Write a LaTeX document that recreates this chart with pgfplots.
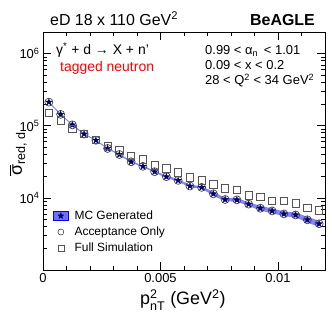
\documentclass[border=0pt]{standalone}
\usepackage{pgfplots}
\pgfplotsset{compat=1.18}
\usepackage{pgfplotstable}
\usepackage{amsmath}
\usepackage{fontspec}
\setmainfont{Liberation Sans}

\definecolor{mcband}{RGB}{112,112,250}
\definecolor{mcline}{RGB}{130,130,255}
\definecolor{navy}{RGB}{0,0,100}
\definecolor{accgray}{RGB}{70,70,70}
\definecolor{fullgray}{RGB}{85,85,85}

\pgfdeclareplotmark{fstar}{%
  \pgfpathmoveto{\pgfpointpolar{90}{\pgfplotmarksize}}%
  \pgfpathlineto{\pgfpointpolar{126}{0.42\pgfplotmarksize}}%
  \pgfpathlineto{\pgfpointpolar{162}{\pgfplotmarksize}}%
  \pgfpathlineto{\pgfpointpolar{198}{0.42\pgfplotmarksize}}%
  \pgfpathlineto{\pgfpointpolar{234}{\pgfplotmarksize}}%
  \pgfpathlineto{\pgfpointpolar{270}{0.42\pgfplotmarksize}}%
  \pgfpathlineto{\pgfpointpolar{306}{\pgfplotmarksize}}%
  \pgfpathlineto{\pgfpointpolar{342}{0.42\pgfplotmarksize}}%
  \pgfpathlineto{\pgfpointpolar{18}{\pgfplotmarksize}}%
  \pgfpathlineto{\pgfpointpolar{54}{0.42\pgfplotmarksize}}%
  \pgfpathclose
  \pgfusepathqfillstroke
}

% MC generated, acceptance only, full simulation
\pgfplotstableread{
x        y       full
0.00025  213000  152000
0.00075  144000  119000
0.00125  103000  91500
0.00175  77000   77000
0.00225  63000   63700
0.00275  48500   52600
0.00325  40000   45900
0.00375  31700   38000
0.00425  27400   34200
0.00475  23100   28200
0.00525  19700   25700
0.00575  17500   22600
0.00625  14600   19300
0.00675  14000   17500
0.00725  11400   15500
0.00775  9500    13600
0.00825  9400    13000
0.00875  8200    10900
0.00925  7200    10300
0.00975  6600    9100
0.01025  6000    9100
0.01075  5800    8350
0.01125  4970    7300
0.01175  4380    6700
}\data

% MC uncertainty band outline (upper edge forward, lower edge back)
\pgfplotstableread{
x        y
0.00025  216200
0.00075  146160
0.00125  104550
0.00175  78160
0.00225  63950
0.00275  49230
0.00325  41000
0.00375  32490
0.00425  28090
0.00475  23680
0.00525  20490
0.00575  18200
0.00625  15180
0.00675  14560
0.00725  12080
0.00775  10070
0.00825  9960
0.00875  8690
0.00925  7780
0.00975  7130
0.01025  6480
0.01075  6260
0.01125  5470
0.01175  4820
0.01175  3980
0.01125  4520
0.01075  5370
0.01025  5560
0.00975  6110
0.00925  6670
0.00875  7740
0.00825  8870
0.00775  8960
0.00725  10750
0.00675  13460
0.00625  14040
0.00575  16830
0.00525  18940
0.00475  22540
0.00425  26730
0.00375  30930
0.00325  39020
0.00275  47780
0.00225  62070
0.00175  75860
0.00125  101480
0.00075  141870
0.00025  209850
}\band

\begin{document}
\begin{tikzpicture}
\begin{axis}[
  scale only axis, width=282bp, height=238bp,
  xmin=0, xmax=0.012,
  ymode=log, ymin=1000, ymax=2e6,
  xtick={0,0.005,0.01}, xticklabels={0,0.005,0.01},
  minor xtick={0.001,0.002,0.003,0.004,0.006,0.007,0.008,0.009,0.011},
  ytick={1e4,1e5,1e6},
  yticklabels={10\textsuperscript{4},10\textsuperscript{5},10\textsuperscript{6}},
  minor ytick={2000,3000,4000,5000,6000,7000,8000,9000,20000,30000,40000,50000,60000,70000,80000,90000,200000,300000,400000,500000,600000,700000,800000,900000},
  tick align=inside,
  major tick length=8bp, minor tick length=4bp,
  axis line style={line width=0.8bp},
  every tick/.style={black, line width=0.6bp},
  tick label style={font=\fontsize{13}{15}\selectfont},
  scaled x ticks=false,
  xlabel={$\text{p}^{\text{2}}_{\text{nT}}$ (GeV\textsuperscript{2})},
  xlabel style={font=\fontsize{18}{20}\selectfont, at={(axis description cs:0.496,-0.126)}, anchor=center},
  ylabel={$\overline{\text{σ}}_{\text{red, d}}$},
  ylabel style={font=\fontsize{18}{20}\selectfont, at={(axis description cs:-0.089,0.487)}, anchor=center},
  legend style={at={(0.035,0.258)}, anchor=north west, draw=none, fill=none,
    font=\fontsize{12}{14}\selectfont, row sep=2bp, inner sep=0pt},
  legend cell align=left,
]
\addplot[fill=mcband, fill opacity=0.85, draw=none, forget plot] table[x=x,y=y]{\band} -- cycle;
\addplot[mcline, line width=0.6bp, forget plot] table[x=x,y=y]{\data};
\addplot[only marks, mark=o, mark size=4bp, mark options={draw=accgray, line width=0.7bp}, forget plot] table[x=x,y=y]{\data};
\addplot[only marks, mark=fstar, mark size=3.4bp, mark options={draw=navy, fill=navy, line width=0.3bp}, forget plot] table[x=x,y=y]{\data};
\addplot[only marks, mark=square, mark size=3.7bp, mark options={draw=fullgray, line width=0.7bp}, forget plot] table[x=x,y=full]{\data};

\addlegendimage{legend image code/.code={
  \draw[fill=mcband, draw=blue, line width=0.6bp] (0bp,-4.5bp) rectangle (15bp,4.5bp);
  \fill[navy] (7.5bp,3bp) -- (8.25bp,1bp) -- (10.3bp,0.9bp) -- (8.7bp,-0.4bp) -- (9.3bp,-2.4bp) -- (7.5bp,-1.3bp) -- (5.7bp,-2.4bp) -- (6.3bp,-0.4bp) -- (4.7bp,0.9bp) -- (6.75bp,1bp) -- cycle;
  \path (19bp,0bp);
}}
\addlegendentry{MC Generated}
\addlegendimage{legend image code/.code={
  \draw[accgray, line width=0.6bp] (7.5bp,0bp) circle (3bp);
  \path (19bp,0bp);
}}
\addlegendentry{Acceptance Only}
\addlegendimage{legend image code/.code={
  \draw[fullgray, line width=0.6bp] (4.5bp,-3bp) rectangle (10.5bp,3bp);
  \path (19bp,0bp);
}}
\addlegendentry{Full Simulation}
\end{axis}

\path (-43bp,-49bp) rectangle (289bp,270bp);
\node[anchor=base west, font=\fontsize{16}{19}\selectfont, inner sep=0pt] at (7bp,244bp) {eD 18 x 110 GeV\textsuperscript{2}};
\node[anchor=base east, font=\fontsize{16}{19}\selectfont\bfseries, inner sep=0pt] at (272bp,244bp) {BeAGLE};
\node[anchor=base west, font=\fontsize{14}{16}\selectfont, inner sep=0pt] at (13bp,215bp) {γ\textsuperscript{*} + d → X + n'};
\node[anchor=base west, font=\fontsize{14}{16}\selectfont, inner sep=0pt, text=red] at (17bp,198.5bp) {tagged neutron};
\node[anchor=base west, font=\fontsize{13}{15}\selectfont, inner sep=0pt] at (162bp,215.5bp) {0.99 < α\textsubscript{n} \,< 1.01};
\node[anchor=base west, font=\fontsize{13}{15}\selectfont, inner sep=0pt] at (162bp,200.5bp) {0.09 < x < 0.2};
\node[anchor=base west, font=\fontsize{13}{15}\selectfont, inner sep=0pt] at (162bp,185.5bp) {28 < Q\textsuperscript{2} < 34 GeV\textsuperscript{2}};
\end{tikzpicture}
\end{document}
